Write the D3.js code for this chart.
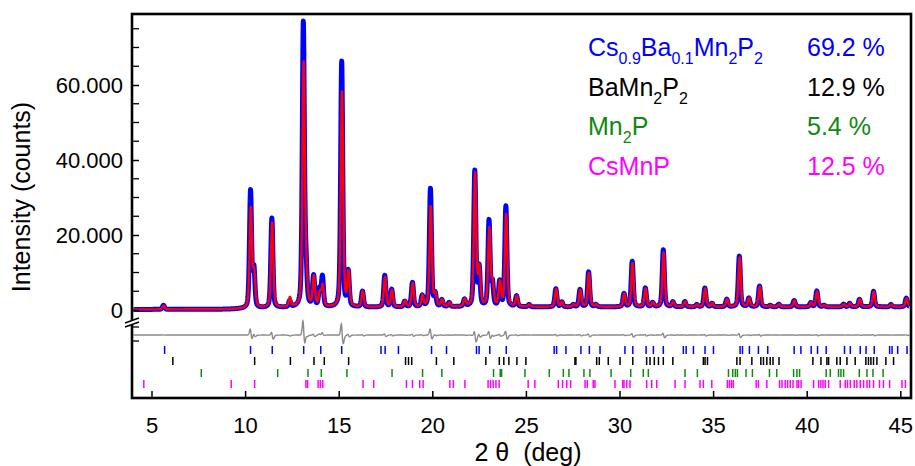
<!DOCTYPE html>
<html><head><meta charset="utf-8">
<script src="https://cdn.jsdelivr.net/npm/d3@7"></script>
<style>
body{margin:0;background:#fff}
svg{display:block;font-family:"Liberation Sans",Arial,Helvetica,sans-serif}
</style>
</head><body>
<svg id="chart" width="915" height="466"></svg>
<script>
// ---------------- data ----------------
// reflection positions (2θ, deg) and heights above background (counts)
const peakPos  = [5.64,10.29,10.47,11.43,12.38,13.11,13.25,13.66,13.98,14.13,15.16,15.51,16.27,17.46,17.83,18.53,18.94,19.46,19.90,20.15,20.51,20.90,21.72,22.27,22.50,23.03,23.21,23.60,23.93,24.50,25.17,26.60,26.92,27.53,27.89,28.35,28.74,30.24,30.68,31.38,31.77,32.34,32.85,33.49,34.13,34.56,34.95,35.73,36.40,36.91,37.48,38.05,38.51,39.33,40.22,40.54,40.93,41.97,42.29,42.82,43.57,44.50,45.32];
const peakObs  = [1100,31200,10100,23900,1600,75400,9500,8100,4500,8000,65500,9200,4200,8400,4650,1500,6500,2900,31500,3300,1800,1100,1900,36100,10200,22800,6100,6600,26800,2800,600,4800,1300,600,4600,9300,600,3500,12100,5000,1100,15200,1300,1400,600,5000,900,2000,13500,2300,5500,400,700,1700,1100,4200,400,700,900,2000,4100,600,2300];
const peakCalc = [1000,26500,9000,22800,2500,64600,7500,7900,3500,5500,57600,9000,4200,8000,4500,1600,6300,2900,26800,3200,1800,1100,1900,35500,9800,20600,5800,6400,24600,2800,600,4700,1300,600,4500,9000,600,3400,11600,4900,1100,14500,1300,1400,600,4900,900,2000,13200,2300,5400,400,700,1700,1100,4100,400,700,900,2000,4000,600,2300];
const bgAngle  = [3.9, 9.0, 12.0, 20.0, 46.0];
const bgCount  = [150, 200, 600, 800, 850];

// Bragg reflection markers for each phase
const ticksCsBa = [5.70,10.29,11.45,13.13,14.04,15.16,17.26,17.48,18.19,19.96,20.76,22.36,22.50,23.07,23.95,26.51,26.64,27.14,27.94,28.39,28.96,30.29,30.71,31.42,31.81,32.34,33.41,33.56,33.95,34.57,35.02,36.44,36.57,36.94,37.42,37.92,39.33,39.69,40.24,40.58,41.04,42.02,42.33,42.86,43.17,43.61,44.43,44.56,44.86,45.36];
const ticksBaMn = [6.14,10.51,12.42,13.68,14.23,15.53,18.57,18.73,18.90,20.22,21.15,22.86,23.58,23.82,24.09,24.52,25.00,27.62,27.67,28.78,28.92,29.40,30.03,30.71,31.45,31.63,31.86,32.08,32.34,32.85,34.48,34.57,34.70,36.27,36.44,37.07,37.55,37.69,37.87,38.05,38.20,38.52,40.33,40.76,41.08,41.17,41.61,41.79,42.15,42.59,43.16,43.30,43.43,43.57,43.75,44.23,44.64];
const ticksMn2P = [7.66,11.74,13.36,14.07,15.44,17.85,19.48,20.51,23.27,23.63,23.70,24.95,26.25,27.00,27.30,28.10,28.42,29.55,30.60,31.27,31.54,33.50,34.16,35.82,36.05,36.19,36.30,36.76,37.10,38.01,38.40,39.30,39.48,39.62,41.04,41.26,41.70,41.83,41.97,42.81,43.22,43.54,44.08];
const ticksCsMnP = [4.59,9.26,10.51,13.25,13.34,13.90,14.02,14.15,16.30,16.87,18.62,18.94,19.33,19.51,20.94,21.12,21.74,22.98,23.11,23.25,23.40,23.57,25.12,25.48,26.73,26.96,27.18,27.39,28.16,28.28,28.60,28.69,29.76,30.17,30.24,30.39,30.56,31.45,31.72,31.99,32.97,33.50,34.30,34.48,34.93,35.76,35.87,35.98,36.08,37.30,37.42,37.87,38.55,38.68,38.85,38.98,39.12,39.27,39.48,39.57,39.70,40.37,40.64,40.76,40.87,40.99,41.17,41.79,42.06,42.18,42.33,42.54,42.68,42.86,43.04,43.22,43.36,43.57,43.89,44.10,44.43,45.09,45.27];

const phaseLabels = [
  [["Cs",0],["0.9",1],["Ba",0],["0.1",1],["Mn",0],["2",1],["P",0],["2",1]],
  [["BaMn",0],["2",1],["P",0],["2",1]],
  [["Mn",0],["2",1],["P",0]],
  [["CsMnP",0]]
];
const phaseFractions = ["69.2 %","12.9 %","5.4 %","12.5 %"];
const phaseColors = ["#0000ff","#000000","#118811","#ff00ff"];

const xTicks = [5,10,15,20,25,30,35,40,45];
const yTicks = [0,20000,40000,60000];
const yTickLabels = ["0","20.000","40.000","60.000"];

// ---------------- layout ----------------
const svg = d3.select("#chart");
const L = 132, R = 911, T = 14, B = 398;
const x = d3.scaleLinear().domain([5,45]).range([151.5,900.3]);
const y = d3.scaleLinear().domain([0,20000]).range([310,235]);
const yDiff = d3.scaleLinear().domain([-11000,11000]).range([345,325]);
const bg = d3.scaleLinear().domain(bgAngle).range(bgCount);

const W = 0.13;           // profile FWHM (deg)
const calcShift = 0.015;  // small zero-shift of the calculated pattern (deg)
const calcWidth = 1.15;   // relative width of calculated profile
function pv(dx, w){
  const q = (dx/w)*(dx/w);
  return 0.6*Math.exp(-2.7726*q) + 0.4/(1+4*q);
}
const x0 = x.invert(L+1.5), x1 = x.invert(R-1.5);
const grid = d3.range(Math.round(x0*100), Math.round(x1*100)+1).map(v=>v/100);
const profile = grid.map(t=>{
  let o = bg(t), c = bg(t);
  for(let i=0;i<peakPos.length;i++){
    const dx = t-peakPos[i];
    if(Math.abs(dx)>3) continue;
    o += peakObs[i]*pv(dx, W);
    c += peakCalc[i]*pv(dx-calcShift, W*calcWidth);
  }
  return {t, o, c, d:o-c};
});

svg.append("defs").append("clipPath").attr("id","pc")
  .append("rect").attr("x",L).attr("y",T).attr("width",R-L).attr("height",B-T);

const g = svg.append("g").attr("clip-path","url(#pc)");

// difference curve
g.append("path").datum(profile)
  .attr("fill","none").attr("stroke","#8a8a8a").attr("stroke-width",1.4)
  .attr("d", d3.line().x(p=>x(p.t)).y(p=>yDiff(p.d)));

// observed
g.append("path").datum(profile)
  .attr("fill","none").attr("stroke","#0000ff").attr("stroke-width",5)
  .attr("stroke-linejoin","round")
  .attr("d", d3.line().x(p=>x(p.t)).y(p=>y(p.o)));
// calculated
g.append("path").datum(profile)
  .attr("fill","none").attr("stroke","#ff0000").attr("stroke-width",2.4)
  .attr("stroke-linejoin","round")
  .attr("d", d3.line().x(p=>x(p.t)).y(p=>y(p.c)));

// Bragg markers
const rows = [ticksCsBa, ticksBaMn, ticksMn2P, ticksCsMnP];
const rowY = [350, 361, 373, 384];
rows.forEach((arr,i)=>{
  g.append("g").selectAll("line").data(arr).join("line")
    .attr("x1",d=>x(d)).attr("x2",d=>x(d))
    .attr("y1",rowY[i]-4).attr("y2",rowY[i]+4)
    .attr("stroke",phaseColors[i]).attr("stroke-width",1.5);
});

// axes
const yAxis = d3.axisLeft(y).tickValues(yTicks).tickFormat((d,i)=>yTickLabels[i])
  .tickSize(-7).tickPadding(9);
const ya = svg.append("g").attr("transform",`translate(${L},0)`).call(yAxis);
ya.select(".domain").remove();
ya.selectAll("text").attr("font-size",22).attr("fill","#000").attr("font-family","Liberation Sans, Arial, sans-serif");
ya.selectAll("line").attr("stroke","#000").attr("stroke-width",1.5);

const yMinor = d3.range(5000, 80000, 5000).filter(v=>v%20000!==0 && y(v)>T+3);
svg.append("g").selectAll("line").data(yMinor).join("line")
  .attr("x1",L).attr("x2",L+7).attr("y1",d=>y(d)).attr("y2",d=>y(d))
  .attr("stroke","#000").attr("stroke-width",1.3);
// ticks in the difference region
svg.append("g").selectAll("line").data([-6600, 8800]).join("line")
  .attr("x1",L).attr("x2",L+7).attr("y1",d=>yDiff(d)).attr("y2",d=>yDiff(d))
  .attr("stroke","#000").attr("stroke-width",1.3);

const xAxis = d3.axisBottom(x).tickValues(xTicks).tickFormat(d3.format("d"))
  .tickSize(-7).tickPadding(19);
const xa = svg.append("g").attr("transform",`translate(0,${B})`).call(xAxis);
xa.select(".domain").remove();
xa.selectAll("text").attr("font-size",22).attr("fill","#000").attr("font-family","Liberation Sans, Arial, sans-serif");
xa.selectAll("line").attr("stroke","#000").attr("stroke-width",1.5);

// frame
svg.append("rect").attr("x",L).attr("y",T).attr("width",R-L).attr("height",B-T)
  .attr("fill","none").attr("stroke","#000").attr("stroke-width",2.6);

// axis break
const bk = svg.append("g");
bk.append("polygon").attr("points",`${L-6},${y(0)+13} ${L+7},${y(0)+8} ${L+7},${y(0)+12} ${L-6},${y(0)+17}`).attr("fill","#fff");
[13,17].forEach(o=>{
  bk.append("line").attr("x1",L-7).attr("y1",y(0)+o).attr("x2",L+7).attr("y2",y(0)+o-5)
    .attr("stroke","#000").attr("stroke-width",1.5);
});

// axis titles
svg.append("text").attr("transform","translate(30,197) rotate(-90)")
  .attr("text-anchor","middle").attr("font-size",25).attr("fill","#000")
  .text("Intensity (counts)");
svg.append("text").attr("x",528).attr("y",461).attr("text-anchor","middle")
  .attr("font-size",25).attr("fill","#000").style("white-space","pre")
  .text("2 θ  (deg)");

// legend
const legY = [56, 95.5, 135, 174.5];
phaseLabels.forEach((parts,i)=>{
  const t = svg.append("text").attr("x",588).attr("y",legY[i])
    .attr("font-size",25).attr("fill",phaseColors[i]);
  let prevSub = 0;
  parts.forEach(([s,sub])=>{
    const ts = t.append("tspan").text(s);
    if(sub){ ts.attr("font-size",16); }
    const shift = (sub?8:0) - (prevSub?8:0);
    if(shift!==0) ts.attr("dy",shift);
    prevSub = sub;
  });
  svg.append("text").attr("x",807).attr("y",legY[i]).attr("font-size",25)
    .attr("fill",phaseColors[i]).text(phaseFractions[i]);
});
</script>
</body></html>
